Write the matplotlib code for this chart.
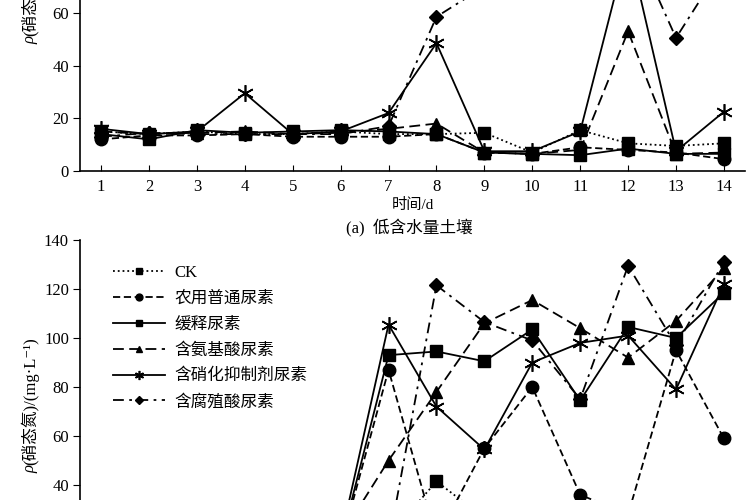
import matplotlib
matplotlib.use("Agg")
import matplotlib.pyplot as plt
from matplotlib.lines import Line2D

plt.rcParams['font.family'] = ['Liberation Serif', 'Noto Sans CJK SC', 'DejaVu Serif']

days = list(range(1, 15))
names = ["CK", "农用普通尿素", "缓释尿素", "含氨基酸尿素", "含硝化抑制剂尿素", "含腐殖酸尿素"]

# (a) low soil moisture
a_ck   = [15, 14, 15, 14, 14, 15, 14, 14, 14.5, 7, 15.5, 10.5, 9.5, 10.5]
a_nong = [12, 13.5, 13.5, 14, 13, 13, 13, 14, 7, 6.5, 9, 8, 7, 4.5]
a_huan = [14, 12, 15.5, 14.5, 15, 15.5, 15, 14, 7, 6.5, 6, 8.5, 6.5, 6.5]
a_anji = [15, 14, 14.5, 15, 14, 14.5, 16, 18, 7, 6.5, 8, 53, 6.5, 7]
a_xiao = [16, 14, 15, 29.5, 14, 15, 22, 48.5, 7.5, 7.5, 15, 86, 7.5, 22.5]
a_fu   = [13, 14.5, 14, 14, 14, 14, 17, 58.5, 70, 85, 95, 91, 50.5, 79]

# (b) second panel (only top part visible)
b_ck   = [10, 12, 14, 15, 16, 17, 19, 41.5, 26.5, 22, 20, 18, 20, 22]
b_nong = [12, 13, 14, 15, 15, 15, 87, 18, 55, 80, 36, 28, 95, 59]
b_huan = [13, 14, 15, 15, 16, 16, 93, 94.5, 90.5, 103.5, 74.5, 104.5, 100, 118.5]
b_anji = [12, 13, 14, 15, 17, 19, 50, 78, 106, 115.5, 104, 92, 107, 128.5]
b_xiao = [14, 15, 15, 16, 16, 18, 105.5, 72, 54.5, 90, 98, 101, 79, 122]
b_fu   = [11, 12, 13, 14, 15, 15, 16, 121.5, 106.5, 99, 75, 129.5, 97, 131]

styles = [
    dict(ls=":", marker="s", ms=9),
    dict(ls=(0, (4, 2)), marker="o", ms=9),
    dict(ls="-", marker="s", ms=9),
    dict(ls=(0, (6, 3)), marker="^", ms=9),
    dict(ls="-", marker=(6, 2, 0), ms=12, mew=1.2),
    dict(ls=(0, (6, 3, 1.5, 3)), marker="D", ms=7),
]

fig = plt.figure(figsize=(7.5, 5), dpi=100)
ax_a = fig.add_axes([80 / 750, 1 - 171 / 500, 665 / 750, 369 / 500])
ax_b = fig.add_axes([80 / 750, 1 - 583 / 500, 665 / 750, 343 / 500])

for ax, series in ((ax_a, [a_ck, a_nong, a_huan, a_anji, a_xiao, a_fu]),
                   (ax_b, [b_ck, b_nong, b_huan, b_anji, b_xiao, b_fu])):
    for vals, st, name in zip(series, styles, names):
        ax.plot(days, vals, color="black", lw=1.3, mfc="black", mec="black",
                label=name, **st)
    ax.set_xlim(0.56, 14.44)
    ax.set_ylim(0, 140)
    ax.set_xticks(days)
    for s in ("top", "right"):
        ax.spines[s].set_visible(False)
    ax.spines["left"].set_linewidth(1.2)
    ax.spines["bottom"].set_linewidth(1.2)
    ax.tick_params(axis="x", direction="in", length=4, labelsize=12, pad=6)
    ax.tick_params(axis="y", direction="out", length=5, labelsize=12, pad=3)

# only the lower part of (a) and the upper part of (b) fall inside the picture
ax_a.set_yticks(range(0, 61, 20))
ax_b.set_yticks(range(40, 141, 20))
ax_b.tick_params(axis="x", labelbottom=False)


def ylabel(x_px, y_start_px):
    # italic rho, then the rest of the label running upwards
    x = x_px / 750
    fig.text(x, 1 - y_start_px / 500, "ρ", rotation=90, rotation_mode="anchor",
             ha="left", va="center", fontsize=12, style="italic")
    fig.text(x, 1 - (y_start_px - 8) / 500, "(硝态氮)/(mg·L⁻¹)", rotation=90,
             rotation_mode="anchor", ha="left", va="center", fontsize=12)


ylabel(30, 473)
ylabel(30, 44)
fig.text(413 / 750, 1 - 205 / 500, "时间/d", ha="center", va="center", fontsize=11)
fig.text(409 / 750, 1 - 228 / 500, "(a)  低含水量土壤", ha="center", va="center", fontsize=12)

handles = [Line2D([], [], color="black", lw=1.3, mfc="black", mec="black",
                  **{**st, "ms": st["ms"] * 0.55}) for st in styles]
ax_b.legend(handles, names, loc="upper left", bbox_to_anchor=(113 / 750, 1 - 265 / 500),
            bbox_transform=fig.transFigure, frameon=False, fontsize=12,
            handlelength=3.1, handletextpad=0.6, labelspacing=0.59,
            borderpad=0, borderaxespad=0)

fig.savefig("out.png", dpi=100)
